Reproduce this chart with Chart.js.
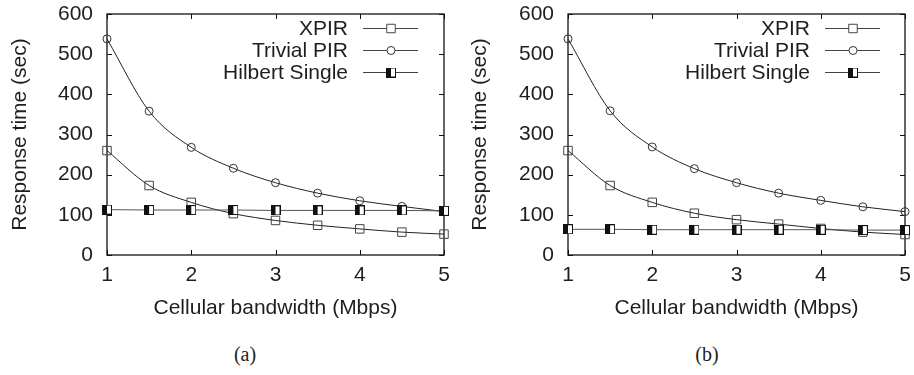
<!DOCTYPE html>
<html>
<head>
<meta charset="utf-8">
<script src="https://cdn.jsdelivr.net/npm/chart.js@4.4.1/dist/chart.umd.min.js"></script>
<style>
body { margin: 0; background: #fff; width: 914px; height: 375px; position: relative; overflow: hidden; }
.panel { position: absolute; top: 0; width: 457px; height: 330px; }
.cap { position: absolute; top: 343px; width: 100px; text-align: center; font: 20px "Liberation Serif", serif; color: #222; }
</style>
</head>
<body>
<div class="panel" style="left:0"><canvas id="chartA" width="457" height="330"></canvas></div>
<div class="panel" style="left:457px"><canvas id="chartB" width="457" height="330"></canvas></div>
<div class="cap" style="left:195px">(a)</div>
<div class="cap" style="left:657px">(b)</div>
<script>
// datos
const bandwidth = [1, 1.5, 2, 2.5, 3, 3.5, 4, 4.5, 5];
const xpirA    = [260, 173, 131, 103, 86, 74, 65, 57, 52];
const trivialA = [538, 358, 268, 216, 180, 154, 135, 121, 108];
const hilbertA = [113, 112, 112, 112, 111, 111, 111, 111, 110];
const xpirB    = [260, 173, 131, 104, 88, 77, 66, 57, 51];
const trivialB = [538, 359, 269, 215, 180, 154, 136, 120, 108];
const hilbertB = [64, 64, 63, 63, 63, 63, 63, 62, 62];
const seriesNames = ['XPIR', 'Trivial PIR', 'Hilbert Single'];
const yTicks = [0, 100, 200, 300, 400, 500, 600];
const xTicks = [1, 2, 3, 4, 5];

const font = { family: '"Liberation Sans", Arial, sans-serif', size: 21 };
const ink = '#1e1e1e';

// marcador medio relleno (Hilbert Single)
function halfBox() {
    const c = document.createElement('canvas');
    c.width = 10; c.height = 10;
    const g = c.getContext('2d');
    g.fillStyle = '#fff'; g.fillRect(0, 0, 10, 10);
    g.fillStyle = '#111'; g.fillRect(0, 0, 5, 10);
    g.strokeStyle = '#111'; g.lineWidth = 1;
    g.strokeRect(0.5, 0.5, 9, 9);
    return c;
}
const hilbertMark = halfBox();

function pts(vals) {
    return bandwidth.map((x, i) => ({ x: x, y: vals[i] }));
}

// marco tipo gnuplot con ticks hacia adentro
const framePlugin = {
    id: 'frame',
    beforeDatasetsDraw(chart) {
        const { ctx, chartArea: a, scales } = chart;
        ctx.save();
        ctx.strokeStyle = '#111';
        ctx.lineWidth = 1.3;
        ctx.strokeRect(a.left, a.top, a.right - a.left, a.bottom - a.top);
        ctx.lineWidth = 1;
        ctx.beginPath();
        yTicks.forEach(v => {
            const y = Math.round(scales.y.getPixelForValue(v)) + 0.5;
            ctx.moveTo(a.left, y); ctx.lineTo(a.left + 5, y);
            ctx.moveTo(a.right, y); ctx.lineTo(a.right - 5, y);
        });
        xTicks.forEach(v => {
            const x = Math.round(scales.x.getPixelForValue(v)) + 0.5;
            ctx.moveTo(x, a.bottom); ctx.lineTo(x, a.bottom - 5);
            ctx.moveTo(x, a.top); ctx.lineTo(x, a.top + 5);
        });
        ctx.stroke();
        ctx.restore();
    },
    afterDraw(chart, args, opts) {
        const { ctx } = chart;
        ctx.save();
        ctx.font = font.size + 'px ' + font.family;
        ctx.textAlign = 'right';
        ctx.textBaseline = 'middle';
        chart.data.datasets.forEach((ds, i) => {
            const y = opts.top + i * 22;
            ctx.fillStyle = ink;
            ctx.fillText(ds.label, opts.textRight, y + 1);
            ctx.strokeStyle = '#444';
            ctx.lineWidth = 1;
            ctx.beginPath();
            ctx.moveTo(opts.lineStart, y + 0.5);
            ctx.lineTo(opts.lineStart + 55, y + 0.5);
            ctx.stroke();
            ctx.strokeStyle = ds.pointBorderColor;
            ctx.fillStyle = '#fff';
            Chart.helpers.drawPoint(ctx, {
                pointStyle: ds.pointStyle, radius: ds.pointRadius,
                rotation: 0, borderWidth: 1
            }, opts.lineStart + 28, y + 0.5);
        });
        ctx.restore();
    }
};

function makeChart(id, xpir, trivial, hilbert, yWidth, padRight, titlePad, legendShift) {
    const ctx = document.getElementById(id);
    return new Chart(ctx, {
        type: 'line',
        data: {
            datasets: [
                {
                    label: seriesNames[0], data: pts(xpir),
                    borderColor: '#222', borderWidth: 1, pointStyle: 'rect', pointRadius: 6,
                    pointBorderColor: '#444', pointBackgroundColor: 'rgba(0,0,0,0)', pointBorderWidth: 1,
                    cubicInterpolationMode: 'monotone', clip: false, order: 2
                },
                {
                    label: seriesNames[1], data: pts(trivial),
                    borderColor: '#222', borderWidth: 1, pointStyle: 'circle', pointRadius: 4,
                    pointBorderColor: '#333', pointBackgroundColor: 'rgba(0,0,0,0)', pointBorderWidth: 1,
                    cubicInterpolationMode: 'monotone', clip: false, order: 1
                },
                {
                    label: seriesNames[2], data: pts(hilbert),
                    borderColor: '#555', borderWidth: 1, pointStyle: hilbertMark, pointRadius: 5,
                    pointBorderColor: '#111', clip: false, order: 0
                }
            ]
        },
        options: {
            responsive: false,
            animation: false,
            events: [],
            layout: { padding: { top: 14, right: padRight, left: 0, bottom: 0 } },
            plugins: {
                legend: { display: false },
                tooltip: { enabled: false },
                frame: { top: 28, textRight: 348 + legendShift, lineStart: 363 + legendShift }
            },
            scales: {
                x: {
                    type: 'linear', min: 1, max: 5,
                    afterFit: s => { s.height = 75; s.paddingLeft = 0; s.paddingRight = 0; },
                    afterBuildTicks: s => { s.ticks = xTicks.map(v => ({ value: v })); },
                    grid: { display: false, drawTicks: false },
                    border: { display: false },
                    ticks: { padding: 8, color: ink, font: font, callback: v => v },
                    title: { display: true, text: 'Cellular bandwidth (Mbps)', color: ink, font: font,
                             padding: { top: 0, bottom: 9 } }
                },
                y: {
                    min: 0, max: 600,
                    afterFit: s => { s.width = yWidth; s.paddingTop = 0; s.paddingBottom = 0; },
                    afterBuildTicks: s => { s.ticks = yTicks.map(v => ({ value: v })); },
                    grid: { display: false, drawTicks: false },
                    border: { display: false },
                    ticks: { padding: 14, color: ink, font: font },
                    title: { display: true, text: 'Response time (sec)', color: ink, font: font,
                             padding: { top: titlePad, bottom: 0 } }
                }
            }
        },
        plugins: [framePlugin]
    });
}

makeChart('chartA', xpirA, trivialA, hilbertA, 107, 13, 8, 0);
makeChart('chartB', xpirB, trivialB, hilbertB, 111, 9, 11, 5);
</script>
</body>
</html>
